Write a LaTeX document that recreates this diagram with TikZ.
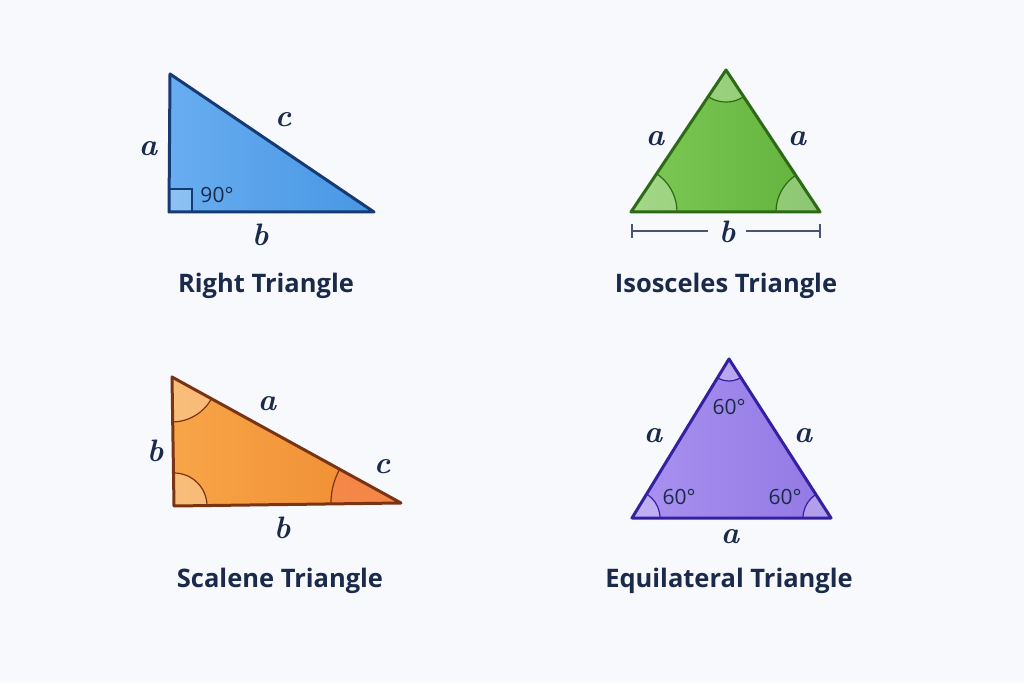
\documentclass[tikz,border=0pt]{standalone}
\usepackage{fontspec}
\newfontfamily\titlefont{Open Sans}
\usetikzlibrary{calc}
\definecolor{bg}{HTML}{F7F9FC}
\definecolor{ink}{HTML}{1B2A4A}
\definecolor{blueA}{HTML}{68ADF0}
\definecolor{blueB}{HTML}{4896E4}
\definecolor{blueE}{HTML}{163A74}
\definecolor{greenA}{HTML}{7EC957}
\definecolor{greenB}{HTML}{62B23C}
\definecolor{greenE}{HTML}{2C6A16}
\definecolor{orA}{HTML}{F7A548}
\definecolor{orB}{HTML}{F08A30}
\definecolor{orE}{HTML}{7A3414}
\definecolor{puA}{HTML}{A992F0}
\definecolor{puB}{HTML}{9278E4}
\definecolor{puE}{HTML}{3420A0}
\tikzset{
  lbl/.style={text=ink, font=\fontsize{31}{33}\selectfont\bfseries\itshape, inner sep=0pt},
  ttl/.style={text=ink, font=\titlefont\bfseries\fontsize{25.5}{28}\selectfont, inner sep=0pt},
  deg/.style={text=ink, font=\titlefont\fontsize{21}{23}\selectfont, inner sep=0pt},
  edge/.style={line width=3pt, line join=round},
  sector/.style={fill=white, fill opacity=0.28},
}
\begin{document}
\begin{tikzpicture}[x=1pt,y=1pt]
\fill[bg] (0,0) rectangle (1024,683);
\useasboundingbox (0,0) rectangle (1024,683);

% ---------- Right triangle ----------
\coordinate (rT) at (170,609);
\coordinate (rL) at (169,471);
\coordinate (rR) at (374,471);
\shade[left color=blueA, right color=blueB] (rT) -- (rL) -- (rR) -- cycle;
\draw[blueE, line width=1.5pt, fill=white, fill opacity=0.25] (rL) rectangle ++(23,23);
\draw[blueE, edge] (rT) -- (rL) -- (rR) -- cycle;
\node[lbl] (ra) at (148,534) {a};
\node[lbl] (rc) at (283,563) {c};
\node[lbl] (rb) at (260,448) {b};
\node[deg] (r90) at (217,488) {90°};
\node[ttl] (rt) at (266,397) {Right Triangle};

% ---------- Isosceles triangle ----------
\coordinate (iA) at (726,613);
\coordinate (iL) at (631,471);
\coordinate (iR) at (820,471);
\shade[left color=greenA, right color=greenB] (iA) -- (iL) -- (iR) -- cycle;
\begin{scope}
\clip (iA) -- (iL) -- (iR) -- cycle;
\fill[sector] (iA) circle (32);
\fill[sector] (iL) circle (46);
\fill[sector] (iR) circle (44);
\draw[greenE, line width=1.2pt] (iA) circle (32) (iL) circle (46) (iR) circle (44);
\end{scope}
\draw[greenE, edge] (iA) -- (iL) -- (iR) -- cycle;
\node[lbl] (ia1) at (655,544) {a};
\node[lbl] (ia2) at (797,544) {a};
\node[lbl] (ib) at (727,451) {b};
\coordinate (d1) at (632,452);
\coordinate (d2) at (820,452);
\coordinate (d1e) at (708,452);
\coordinate (d2s) at (746,452);
\draw[ink!80, line width=1.2pt] (d1) -- (d1e) (d2s) -- (d2);
\draw[ink!80, line width=1.2pt] ($(d1)+(0,-7)$) -- ($(d1)+(0,7)$) ($(d2)+(0,-7)$) -- ($(d2)+(0,7)$);
\node[ttl] (it) at (726,397) {Isosceles Triangle};

% ---------- Scalene triangle ----------
\coordinate (sT) at (172,306);
\coordinate (sL) at (174,177);
\coordinate (sR) at (401,180);
\shade[left color=orA, right color=orB] (sT) -- (sL) -- (sR) -- cycle;
\begin{scope}
\clip (sT) -- (sL) -- (sR) -- cycle;
\fill[orB!70!red, opacity=0.6] (sR) circle (70);
\fill[sector] (sT) circle (45);
\fill[sector] (sL) circle (33);
\fill[white, fill opacity=0.15] (sR) circle (70);
\draw[orE, line width=1.2pt] (sT) circle (45) (sL) circle (33) (sR) circle (70);
\end{scope}
\draw[orE, edge] (sT) -- (sL) -- (sR) -- cycle;
\node[lbl] (sa) at (267,279) {a};
\node[lbl] (sb1) at (155,232) {b};
\node[lbl] (sc) at (382,216) {c};
\node[lbl] (sb2) at (282,155) {b};
\node[ttl] (st) at (280,102) {Scalene Triangle};

% ---------- Equilateral triangle ----------
\coordinate (eA) at (729,324);
\coordinate (eL) at (632,165);
\coordinate (eR) at (831,165);
\shade[left color=puA, right color=puB] (eA) -- (eL) -- (eR) -- cycle;
\begin{scope}
\clip (eA) -- (eL) -- (eR) -- cycle;
\fill[sector] (eA) circle (22);
\fill[sector] (eL) circle (28);
\fill[sector] (eR) circle (28);
\draw[puE, line width=1.2pt] (eA) circle (22) (eL) circle (28) (eR) circle (28);
\end{scope}
\draw[puE, edge] (eA) -- (eL) -- (eR) -- cycle;
\node[lbl] (ea1) at (653,247) {a};
\node[lbl] (ea2) at (803,247) {a};
\node[lbl] (ea3) at (730,146) {a};
\node[deg] (e60a) at (729,276) {60°};
\node[deg] (e60b) at (679,186) {60°};
\node[deg] (e60c) at (785,186) {60°};
\node[ttl] (et) at (729,102) {Equilateral Triangle};
\end{tikzpicture}
\end{document}
